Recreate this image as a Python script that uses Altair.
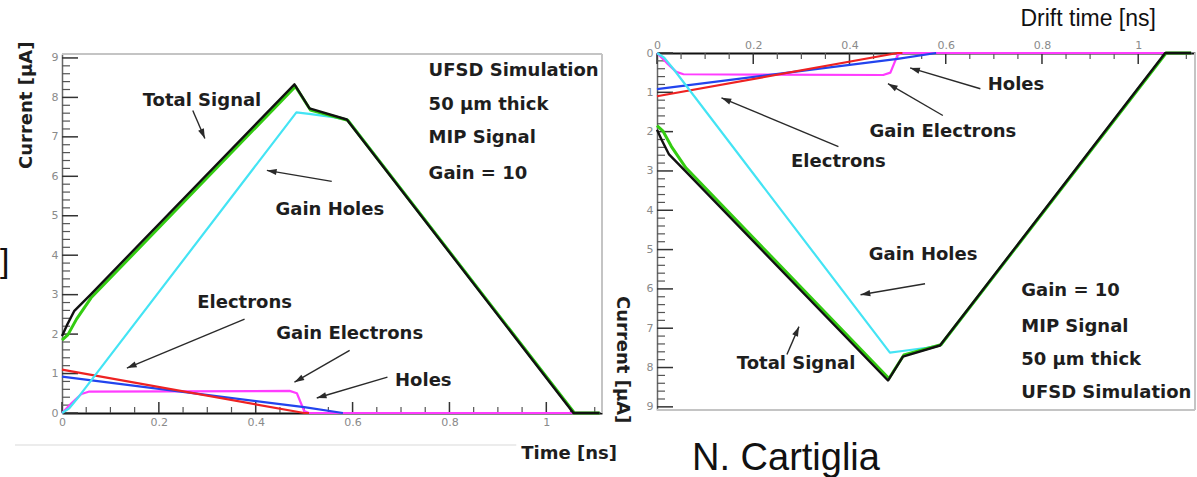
import math
import altair as alt
import pandas as pd

W, H = 1197, 477

# ---------------- data ----------------
# time [ns] and current [uA] for each curve
t_total = [0.0, 0.01, 0.025, 0.058, 0.48, 0.511, 0.588, 1.056, 1.11]
i_total = [1.95, 2.22, 2.58, 2.99, 8.33, 7.72, 7.44, 0.0, 0.0]
t_green = [0.0, 0.012, 0.03, 0.06, 0.482, 0.513, 0.59, 1.058, 1.11]
i_green = [1.85, 1.98, 2.38, 2.92, 8.28, 7.68, 7.42, 0.0, 0.0]
t_gain_holes = [0.0, 0.015, 0.035, 0.484, 0.51, 0.56, 0.59, 1.058, 1.11]
i_gain_holes = [0.0, 0.12, 0.42, 7.62, 7.58, 7.5, 7.43, 0.0, 0.0]
t_electrons = [0.0, 0.5, 0.51]
i_electrons = [1.1, 0.0, 0.0]
t_holes = [0.0, 0.5, 0.58]
i_holes = [0.92, 0.15, 0.0]
t_gain_el = [0.0, 0.02, 0.04, 0.055, 0.47, 0.485, 0.5, 0.51, 1.11]
i_gain_el = [0.0, 0.25, 0.48, 0.54, 0.56, 0.5, 0.05, 0.0, 0.0]

annot_labels = ["Total Signal", "Gain Holes", "Electrons", "Gain Electrons", "Holes"]
annot_x = [0.289, 0.553, 0.377, 0.594, 0.746]
annot_y = [7.90, 5.14, 2.78, 2.00, 0.81]

arrow_x0 = [0.270, 0.557, 0.377, 0.594, 0.672]
arrow_y0 = [7.67, 5.87, 2.38, 1.59, 0.91]
arrow_x1 = [0.295, 0.423, 0.134, 0.480, 0.526]
arrow_y1 = [6.96, 6.15, 1.14, 0.78, 0.38]

info_labels = ["UFSD Simulation", "50 \u03bcm thick", "MIP Signal", "Gain = 10"]
info_x = [0.757, 0.757, 0.757, 0.757]
info_y = [8.66, 7.80, 6.96, 6.05]

x_major = [0, 0.2, 0.4, 0.6, 0.8, 1.0]
x_minor = [0.05, 0.1, 0.15, 0.25, 0.3, 0.35, 0.45, 0.5, 0.55, 0.65, 0.7, 0.75,
           0.85, 0.9, 0.95, 1.05, 1.1]
y_major = [0, 1, 2, 3, 4, 5, 6, 7, 8, 9]
y_minor = [0.2, 0.4, 0.6, 0.8, 1.2, 1.4, 1.6, 1.8, 2.2, 2.4, 2.6, 2.8, 3.2, 3.4,
           3.6, 3.8, 4.2, 4.4, 4.6, 4.8, 5.2, 5.4, 5.6, 5.8, 6.2, 6.4, 6.6, 6.8,
           7.2, 7.4, 7.6, 7.8, 8.2, 8.4, 8.6, 8.8]

# ---------------- panel geometry ----------------
XMAX_L, YMAX_L = 1.115, 9.1
XMAX_R, YMAX_R = 1.118, 9.08
XL = alt.Scale(domain=[0, XMAX_L], range=[62, 602], nice=False, zero=False)
YL = alt.Scale(domain=[0, YMAX_L], range=[413, 54], nice=False, zero=False)
XR = alt.Scale(domain=[0, XMAX_R], range=[657, 1195], nice=False, zero=False)
YR = alt.Scale(domain=[0, YMAX_R], range=[53, 410], nice=False, zero=False)

FONT = "DejaVu Sans"
TXT = "#1e1e1e"

series = [
    (t_gain_el, i_gain_el, "#ff3cff", 2.2),
    (t_holes, i_holes, "#2244ee", 2.2),
    (t_electrons, i_electrons, "#ee2222", 2.2),
    (t_gain_holes, i_gain_holes, "#44e4f4", 2.2),
    (t_green, i_green, "#33cc11", 3.0),
    (t_total, i_total, "#111111", 2.4),
]


def enc(XS, YS, xf="x", yf="y"):
    return dict(
        x=alt.X(f"{xf}:Q", scale=XS, axis=None),
        y=alt.Y(f"{yf}:Q", scale=YS, axis=None),
    )


def panel(XS, YS, xmax, ymax, flipped):
    layers = []
    sx = (XS.range[1] - XS.range[0]) / xmax
    sy = abs(YS.range[1] - YS.range[0]) / ymax

    # frame (gray) lines
    fr = pd.DataFrame({"x": [0, xmax], "x2": [xmax, xmax], "y": [ymax, 0], "y2": [ymax, ymax]})
    layers.append(
        alt.Chart(fr).mark_rule(color="#c4c4c4", strokeWidth=2).encode(
            x2="x2:Q", y2="y2:Q", **enc(XS, YS))
    )

    # tick marks pointing into the plot
    for xv, yv, lx, ly, col, tw in [(x_major, y_major, 11, 16, "#333333", 1.5),
                                    (x_minor, y_minor, 6, 8, "#555555", 1.2)]:
        tx = pd.DataFrame({"x": xv, "y": [0.0] * len(xv), "y2": [ly_ / sy for ly_ in [lx] * len(xv)]})
        layers.append(
            alt.Chart(tx).mark_rule(color=col, strokeWidth=tw).encode(
                y2="y2:Q", **enc(XS, YS))
        )
        ty = pd.DataFrame({"y": yv, "x": [0.0] * len(yv), "x2": [ly / sx] * len(yv)})
        layers.append(
            alt.Chart(ty).mark_rule(color=col, strokeWidth=tw).encode(
                x2="x2:Q", **enc(XS, YS))
        )

    # curves
    for t, i, col, w in series:
        df = pd.DataFrame({"x": t, "y": i})
        layers.append(
            alt.Chart(df).mark_line(color=col, strokeWidth=w, strokeJoin="round").encode(**enc(XS, YS))
        )

    # arrows
    ang = []
    for a0, b0, a1, b1 in zip(arrow_x0, arrow_y0, arrow_x1, arrow_y1):
        dx = (a1 - a0) * sx
        dy = (b1 - b0) * sy * (1 if flipped else -1)
        ang.append(math.degrees(math.atan2(dx, -dy)) % 360)
    ar = pd.DataFrame({"x": arrow_x0, "y": arrow_y0, "x2": arrow_x1, "y2": arrow_y1, "ang": ang})
    layers.append(
        alt.Chart(ar).mark_rule(color="#2a2a2a", strokeWidth=1.4).encode(
            x2="x2:Q", y2="y2:Q", **enc(XS, YS))
    )
    layers.append(
        alt.Chart(ar).mark_point(shape="M0,0L-0.32,1L0.32,1Z", filled=True, size=380,
                                 color="#2a2a2a", opacity=1).encode(
            angle=alt.Angle("ang:Q", scale=None), **enc(XS, YS, "x2", "y2"))
    )

    # annotation texts
    an = pd.DataFrame({"x": annot_x, "y": annot_y, "t": annot_labels})
    layers.append(
        alt.Chart(an).mark_text(font=FONT, fontWeight="bold", fontSize=18, color=TXT,
                                align="center", baseline="middle").encode(
            text="t:N", **enc(XS, YS))
    )
    inf = pd.DataFrame({"x": info_x, "y": info_y, "t": info_labels})
    layers.append(
        alt.Chart(inf).mark_text(font=FONT, fontWeight="bold", fontSize=18, color=TXT,
                                 align="left", baseline="middle").encode(
            text="t:N", **enc(XS, YS))
    )
    # y axis title
    yt = pd.DataFrame({"x": [-0.072], "y": [7.8], "t": ["Current [\u03bcA]"]})
    layers.append(
        alt.Chart(yt).mark_text(font=FONT, fontWeight="bold", fontSize=18, color=TXT,
                                align="center", baseline="middle",
                                angle=90 if flipped else 270).encode(
            text="t:N", **enc(XS, YS))
    )
    return layers


def axes_layer(XS, YS, flipped):
    pt = pd.DataFrame({"x": [0.0], "y": [0.0]})
    lab = dict(labelColor="#8a8a8a", labelFont=FONT, labelFontSize=11, grid=False,
               title=None, ticks=False, tickSize=0, labelFlush=False)
    if not flipped:
        xa = alt.Axis(orient="bottom", offset=-(H - 413), values=x_major, format="~g",
                      domainColor="#111111", domainWidth=2.2, labelPadding=3, **lab)
        ya = alt.Axis(orient="left", offset=-62, values=y_major, format="~g",
                      domainColor="#666666", domainWidth=1.5, labelPadding=4, **lab)
    else:
        xa = alt.Axis(orient="top", offset=-53, values=x_major, format="~g",
                      domainColor="#111111", domainWidth=2.2, labelPadding=3, **lab)
        ya = alt.Axis(orient="left", offset=-657, values=y_major, format="~g",
                      domainColor="#666666", domainWidth=1.5, labelPadding=4, **lab)
    return alt.Chart(pt).mark_point(opacity=0).encode(
        x=alt.X("x:Q", scale=XS, axis=xa), y=alt.Y("y:Q", scale=YS, axis=ya))


layers = []
layers.append(axes_layer(XL, YL, False))
layers += panel(XL, YL, XMAX_L, YMAX_L, False)
layers.append(axes_layer(XR, YR, True))
layers += panel(XR, YR, XMAX_R, YMAX_R, True)

# extra texts
lt = pd.DataFrame({"x": [1.047], "y": [-1.03], "t": ["Time [ns]"]})
layers.append(alt.Chart(lt).mark_text(font=FONT, fontWeight="bold", fontSize=18, color=TXT,
                                      align="center", baseline="middle").encode(
    text="t:N", **enc(XL, YL)))
frag = pd.DataFrame({"x": [-0.128], "y": [3.82], "t": ["]"]})
layers.append(alt.Chart(frag).mark_text(font="Liberation Sans", fontSize=34, color="#111111",
                                        align="left", baseline="middle").encode(
    text="t:N", **enc(XL, YL)))
border = pd.DataFrame({"x": [-0.097], "x2": [0.938], "y": [-0.81]})
layers.append(alt.Chart(border).mark_rule(color="#e6e6e6", strokeWidth=1.5).encode(
    x2="x2:Q", **enc(XL, YL)))

rt = pd.DataFrame({"x": [0.896], "y": [-0.87], "t": ["Drift time [ns]"]})
layers.append(alt.Chart(rt).mark_text(font="Liberation Sans", fontSize=23, color="#111111",
                                      align="center", baseline="middle").encode(
    text="t:N", **enc(XR, YR)))
au = pd.DataFrame({"x": [0.268], "y": [10.33], "t": ["N. Cartiglia"]})
layers.append(alt.Chart(au).mark_text(font="Liberation Sans", fontSize=38, color="#111111",
                                      align="center", baseline="middle").encode(
    text="t:N", **enc(XR, YR)))

chart = alt.layer(*layers).resolve_scale(x="independent", y="independent").resolve_axis(
    x="independent", y="independent"
).properties(
    width=W, height=H, padding=0,
    autosize=alt.AutoSizeParams(type="none"),
    background="white",
).configure_view(stroke="transparent")

chart.save("out.html", embed_options={"renderer": "svg", "actions": False})
